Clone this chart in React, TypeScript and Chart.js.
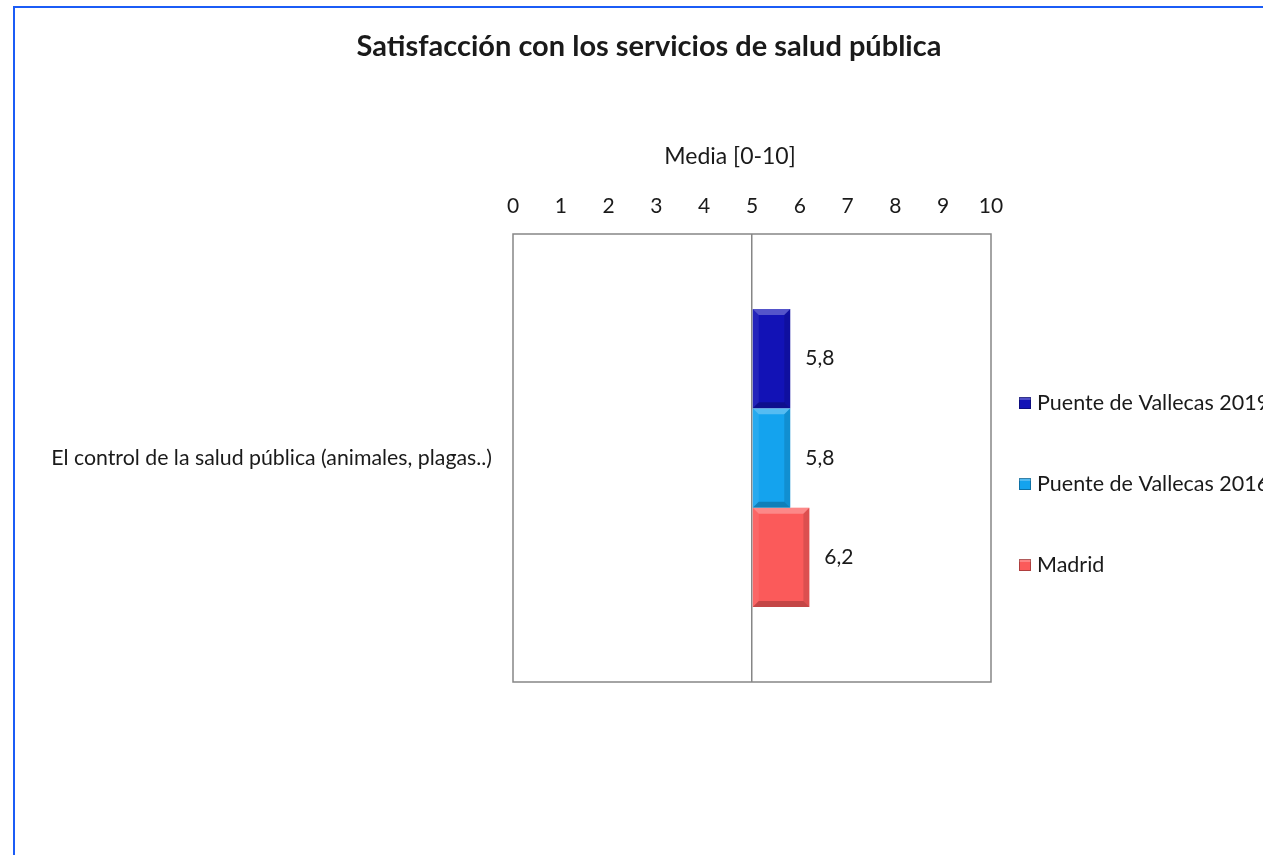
import React, { useEffect, useRef } from "react";
import { Chart, registerables } from "chart.js";

Chart.register(...registerables);

const chartTitle = "Satisfacción con los servicios de salud pública";
const axisTitle = "Media [0-10]";
const categories = ["El control de la salud pública (animales, plagas..)"];
const seriesNames = ["Puente de Vallecas 2019", "Puente de Vallecas 2016", "Madrid"];
const vallecas2019 = [5.8];
const vallecas2016 = [5.8];
const madrid = [6.2];
const axisCross = 5;
const axisMin = 0;
const axisMax = 10;

const colors = ["#1212b6", "#14a3ee", "#fb5a5a"];
const FONT = "Lato, 'Open Sans', sans-serif";
const BODY = 21;

const fmt = (v: number) => v.toFixed(1).replace(".", ",");

const W = 1263;
const H = 855;

export default function App() {
  const ref = useRef<HTMLCanvasElement | null>(null);

  useEffect(() => {
    if (!ref.current) return;
    Chart.defaults.font.family = FONT;

    const extras = {
      id: "extras",
      afterDatasetsDraw(chart: any) {
        const ctx = chart.ctx;
        const area = chart.chartArea;
        ctx.save();
        chart.data.datasets.forEach((ds: any, di: number) => {
          const meta = chart.getDatasetMeta(di);
          meta.data.forEach((bar: any, i: number) => {
            const x0 = Math.min(bar.base, bar.x);
            const x1 = Math.max(bar.base, bar.x);
            const y0 = bar.y - bar.height / 2;
            const y1 = bar.y + bar.height / 2;
            const b = 6;
            const poly = (pts: number[][], fill: string) => {
              ctx.beginPath();
              ctx.moveTo(pts[0][0], pts[0][1]);
              for (let k = 1; k < pts.length; k++) ctx.lineTo(pts[k][0], pts[k][1]);
              ctx.closePath();
              ctx.fillStyle = fill;
              ctx.fill();
            };
            poly([[x0, y0], [x1, y0], [x1 - b, y0 + b], [x0 + b, y0 + b]], "rgba(255,255,255,0.28)");
            poly([[x0, y0], [x0 + b, y0 + b], [x0 + b, y1 - b], [x0, y1]], "rgba(255,255,255,0.08)");
            poly([[x0, y1], [x0 + b, y1 - b], [x1 - b, y1 - b], [x1, y1]], "rgba(0,0,0,0.22)");
            poly([[x1, y0], [x1 - b, y0 + b], [x1 - b, y1 - b], [x1, y1]], "rgba(0,0,0,0.12)");
            ctx.fillStyle = "#1a1a1a";
            ctx.font = `${BODY}px ${FONT}`;
            ctx.textAlign = "left";
            ctx.textBaseline = "middle";
            ctx.fillText(fmt(ds.data[i]), x1 + 15, bar.y);
          });
        });
        // plot border
        ctx.strokeStyle = "#868686";
        ctx.lineWidth = 1.5;
        ctx.strokeRect(area.left, area.top, area.right - area.left, area.bottom - area.top);
        // chart title
        ctx.fillStyle = "#1a1a1a";
        ctx.font = `bold 29px ${FONT}`;
        ctx.textAlign = "center";
        ctx.textBaseline = "middle";
        ctx.fillText(chartTitle, 649, 47);
        // value-axis title (placed slightly left of the plot centre, as in the original)
        ctx.font = `23px ${FONT}`;
        ctx.fillText(axisTitle, (area.left + area.right) / 2 - 22, 157);
        // legend
        const legendX = area.right + 28;
        const legendTop = 403;
        const legendStep = 81;
        chart.data.datasets.forEach((ds: any, di: number) => {
          const y = legendTop + di * legendStep;
          ctx.fillStyle = ds.backgroundColor;
          ctx.fillRect(legendX, y - 6, 12, 12);
          ctx.fillStyle = "rgba(255,255,255,0.25)";
          ctx.fillRect(legendX, y - 6, 12, 3);
          ctx.strokeStyle = "rgba(0,0,0,0.3)";
          ctx.lineWidth = 1;
          ctx.strokeRect(legendX + 0.5, y - 5.5, 11, 11);
          ctx.fillStyle = "#1a1a1a";
          ctx.font = `21.5px ${FONT}`;
          ctx.textAlign = "left";
          ctx.textBaseline = "middle";
          ctx.fillText(ds.label, legendX + 18, y);
        });
        ctx.restore();
      },
    };

    const chart = new Chart(ref.current, {
      type: "bar",
      data: {
        labels: categories,
        datasets: [
          { label: seriesNames[0], data: vallecas2019, backgroundColor: colors[0], base: axisCross } as any,
          { label: seriesNames[1], data: vallecas2016, backgroundColor: colors[1], base: axisCross } as any,
          { label: seriesNames[2], data: madrid, backgroundColor: colors[2], base: axisCross } as any,
        ],
      },
      options: {
        indexAxis: "y",
        responsive: false,
        animation: false,
        categoryPercentage: 0.665,
        barPercentage: 1.0,
        layout: { padding: { left: 0, top: 0, right: W - 991, bottom: H - 682 } },
        plugins: {
          legend: { display: false },
          title: { display: false },
          tooltip: { enabled: false },
        },
        scales: {
          x: {
            position: "top",
            min: axisMin,
            max: axisMax,
            afterFit: (s: any) => {
              s.height = 234;
            },
            ticks: {
              stepSize: 1,
              color: "#1a1a1a",
              font: { size: BODY, family: FONT },
              padding: 15,
              maxRotation: 0,
              autoSkip: false,
              callback: (v: any) => String(v),
            },
            grid: {
              drawTicks: false,
              color: (c: any) => (c.tick && c.tick.value === axisCross ? "#868686" : "rgba(0,0,0,0)"),
              lineWidth: 1.5,
            },
            border: { display: false },
            title: { display: false },
          },
          y: {
            afterFit: (s: any) => {
              s.width = 513;
            },
            ticks: {
              color: "#1a1a1a",
              font: { size: 21.3, family: FONT },
              padding: 21,
            },
            grid: { display: false, drawTicks: false },
            border: { display: false },
          },
        },
      },
      plugins: [extras],
    });
    return () => chart.destroy();
  }, []);

  return (
    <div style={{ position: "fixed", left: 0, top: 0, width: W, height: H, overflow: "hidden", background: "#fff" }}>
      <div
        style={{
          position: "absolute",
          left: 13,
          top: 6,
          width: 1400,
          height: 1000,
          border: "2px solid #1b5cf6",
        }}
      />
      <canvas
        ref={ref}
        width={W}
        height={H}
        style={{ position: "absolute", left: 0, top: 0, width: W, height: H }}
      />
    </div>
  );
}
